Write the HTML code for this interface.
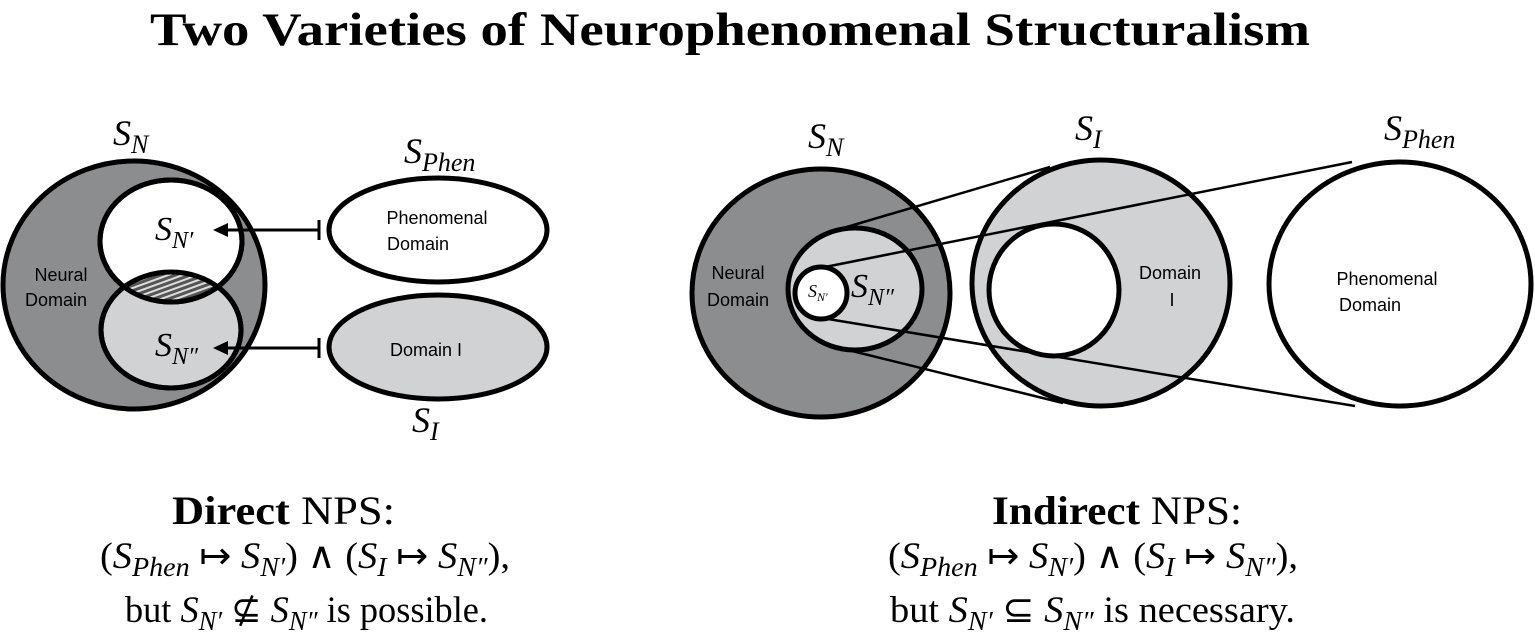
<!DOCTYPE html>
<html><head><meta charset="utf-8"><style>
html,body{margin:0;padding:0;background:#fff;}
svg{display:block;}
.s{font-family:"Liberation Serif",serif;}
.a{font-family:"Liberation Sans",sans-serif;font-size:18px;}
</style></head><body>
<svg width="1535" height="639" viewBox="0 0 1535 639" xmlns="http://www.w3.org/2000/svg">
<defs>
<pattern id="h" width="5" height="5" patternUnits="userSpaceOnUse" patternTransform="rotate(-20)">
<rect width="5" height="5" fill="#555"/><rect width="5" height="2" fill="#ddd"/>
</pattern>
<clipPath id="cu"><ellipse cx="171" cy="241" rx="71" ry="61"/></clipPath>
</defs>
<text class="s" x="150" y="45" font-size="47" font-weight="bold" textLength="1160" lengthAdjust="spacingAndGlyphs">Two Varieties of Neurophenomenal Structuralism</text>

<!-- Left diagram -->
<ellipse cx="134" cy="285" rx="131" ry="124" fill="#8b8d8f" stroke="#000" stroke-width="5"/>
<ellipse cx="171" cy="330" rx="70" ry="58" fill="#d1d2d3" stroke="#000" stroke-width="5"/>
<ellipse cx="171" cy="241" rx="71" ry="61" fill="#fff" stroke="#000" stroke-width="5"/>
<ellipse cx="171" cy="330" rx="70" ry="58" fill="url(#h)" clip-path="url(#cu)"/>
<ellipse cx="171" cy="241" rx="71" ry="61" fill="none" stroke="#000" stroke-width="5"/>
<ellipse cx="171" cy="330" rx="70" ry="58" fill="none" stroke="#000" stroke-width="5"/>
<text class="a" x="61" y="281" text-anchor="middle">Neural</text>
<text class="a" x="56" y="306" text-anchor="middle">Domain</text>
<text class="s" x="155" y="240" font-size="34" font-style="italic">S<tspan font-size="24" dy="8">N′</tspan></text>
<text class="s" x="155" y="356" font-size="34" font-style="italic">S<tspan font-size="24" dy="8">N″</tspan></text>
<text class="s" x="113" y="145" font-size="36" font-style="italic">S<tspan font-size="26" dy="8">N</tspan></text>

<ellipse cx="438" cy="230" rx="109" ry="52" fill="#fff" stroke="#000" stroke-width="5"/>
<ellipse cx="438" cy="347" rx="109" ry="52" fill="#d1d2d3" stroke="#000" stroke-width="5"/>
<text class="a" x="437" y="224" text-anchor="middle">Phenomenal</text>
<text class="a" x="418" y="250" text-anchor="middle">Domain</text>
<text class="a" x="426" y="356" text-anchor="middle">Domain I</text>
<line x1="318" y1="230" x2="225" y2="230" stroke="#000" stroke-width="3"/>
<path d="M213,230 L228,223 L228,237 Z" fill="#000"/>
<line x1="319" y1="220" x2="319" y2="240" stroke="#000" stroke-width="3"/>
<line x1="318" y1="348" x2="225" y2="348" stroke="#000" stroke-width="3"/>
<path d="M213,348 L228,341 L228,355 Z" fill="#000"/>
<line x1="319" y1="338" x2="319" y2="358" stroke="#000" stroke-width="3"/>
<text class="s" x="404" y="163" font-size="36" font-style="italic">S<tspan font-size="26" dy="8">Phen</tspan></text>
<text class="s" x="412" y="432" font-size="36" font-style="italic">S<tspan font-size="26" dy="8">I</tspan></text>

<!-- Right diagram -->
<ellipse cx="821" cy="293" rx="129" ry="124" fill="#8b8d8f" stroke="#000" stroke-width="5"/>
<ellipse cx="1101" cy="283" rx="129" ry="123" fill="#d1d2d3" stroke="#000" stroke-width="5"/>
<ellipse cx="1054" cy="290" rx="65" ry="66" fill="#fff" stroke="#000" stroke-width="5"/>
<ellipse cx="1400" cy="284" rx="131" ry="122" fill="#fff" stroke="#000" stroke-width="5"/>
<ellipse cx="855" cy="289" rx="67" ry="61" fill="#d1d2d3" stroke="#000" stroke-width="5"/>
<ellipse cx="821" cy="293" rx="26" ry="26" fill="#fff" stroke="#000" stroke-width="5"/>
<g stroke="#000" stroke-width="2.5">
<line x1="840" y1="229" x2="1050" y2="167"/>
<line x1="852" y1="351" x2="1063" y2="403"/>
<line x1="820" y1="268" x2="1352" y2="162"/>
<line x1="822" y1="318" x2="1355" y2="406"/>
</g>
<text class="a" x="738" y="279" text-anchor="middle">Neural</text>
<text class="a" x="738" y="306" text-anchor="middle">Domain</text>
<text class="s" x="808" y="297" font-size="18" font-style="italic">S<tspan font-size="12" dy="4">N′</tspan></text>
<text class="s" x="851" y="297" font-size="34" font-style="italic">S<tspan font-size="24" dy="8">N″</tspan></text>
<text class="a" x="1170" y="279" text-anchor="middle">Domain</text>
<text class="a" x="1172" y="306" text-anchor="middle">I</text>
<text class="a" x="1387" y="285" text-anchor="middle">Phenomenal</text>
<text class="a" x="1370" y="311" text-anchor="middle">Domain</text>
<text class="s" x="808" y="148" font-size="36" font-style="italic">S<tspan font-size="26" dy="8">N</tspan></text>
<text class="s" x="1075" y="140" font-size="36" font-style="italic">S<tspan font-size="26" dy="8">I</tspan></text>
<text class="s" x="1384" y="140" font-size="36" font-style="italic">S<tspan font-size="26" dy="8">Phen</tspan></text>

<!-- Bottom text -->
<text class="s" x="172" y="524" font-size="40" textLength="223" lengthAdjust="spacingAndGlyphs"><tspan font-weight="bold">Direct</tspan> NPS:</text>
<text class="s" x="100" y="568" font-size="37" textLength="410" lengthAdjust="spacingAndGlyphs">(<tspan font-style="italic">S<tspan font-size="27" dy="8">Phen</tspan></tspan><tspan dy="-8"> ↦ </tspan><tspan font-style="italic">S<tspan font-size="27" dy="8">N′</tspan></tspan><tspan dy="-8">) ∧ (</tspan><tspan font-style="italic">S<tspan font-size="27" dy="8">I</tspan></tspan><tspan dy="-8"> ↦ </tspan><tspan font-style="italic">S<tspan font-size="27" dy="8">N″</tspan></tspan><tspan dy="-8">),</tspan></text>
<text class="s" x="125" y="622" font-size="37" textLength="363" lengthAdjust="spacingAndGlyphs">but <tspan font-style="italic">S<tspan font-size="27" dy="8">N′</tspan></tspan><tspan dy="-8"> ⊈ </tspan><tspan font-style="italic">S<tspan font-size="27" dy="8">N″</tspan></tspan><tspan dy="-8"> is possible.</tspan></text>

<text class="s" x="992" y="524" font-size="40" textLength="250" lengthAdjust="spacingAndGlyphs"><tspan font-weight="bold">Indirect</tspan> NPS:</text>
<text class="s" x="888" y="568" font-size="37" textLength="410" lengthAdjust="spacingAndGlyphs">(<tspan font-style="italic">S<tspan font-size="27" dy="8">Phen</tspan></tspan><tspan dy="-8"> ↦ </tspan><tspan font-style="italic">S<tspan font-size="27" dy="8">N′</tspan></tspan><tspan dy="-8">) ∧ (</tspan><tspan font-style="italic">S<tspan font-size="27" dy="8">I</tspan></tspan><tspan dy="-8"> ↦ </tspan><tspan font-style="italic">S<tspan font-size="27" dy="8">N″</tspan></tspan><tspan dy="-8">),</tspan></text>
<text class="s" x="890" y="622" font-size="37" textLength="405" lengthAdjust="spacingAndGlyphs">but <tspan font-style="italic">S<tspan font-size="27" dy="8">N′</tspan></tspan><tspan dy="-8"> ⊆ </tspan><tspan font-style="italic">S<tspan font-size="27" dy="8">N″</tspan></tspan><tspan dy="-8"> is necessary.</tspan></text>
</svg>
</body></html>
